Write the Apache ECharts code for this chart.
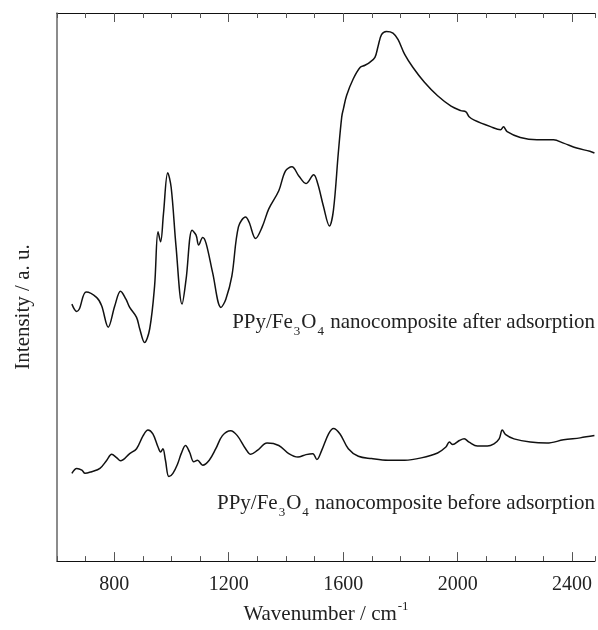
<!DOCTYPE html>
<html>
<head>
<meta charset="utf-8">
<script src="https://cdn.jsdelivr.net/npm/echarts@6/dist/echarts.min.js"></script>
<style>
html,body{margin:0;padding:0;background:#fff;}
#chart{width:598px;height:630px;}
</style>
</head>
<body>
<div id="chart"></div>
<script>
// Wavenumber (cm-1) and intensity (a.u.)
const afterWavenumber = [652,669,678,702,739,756,779,802,822,841,854,878,889,906,924,941,953,962,972,987,999,1016,1037,1051,1072,1086,1095,1109,1121,1144,1173,1190,1211,1234,1259,1271,1294,1317,1340,1375,1398,1421,1445,1470,1497,1511,1531,1552,1566,1583,1595,1601,1612,1635,1659,1676,1693,1711,1722,1734,1751,1774,1792,1815,1844,1884,1930,1977,2011,2029,2040,2058,2115,2150,2160,2173,2219,2277,2335,2370,2416,2462,2478];
const afterIntensity = [251.7,244.3,246.7,264,258.3,250,228.3,250,264.7,256.7,248.3,238.3,226.7,212.7,226.7,270,325,315,343.3,385,370,310,251.7,276.7,326.7,321.7,311.7,319.3,313.3,283.3,248.3,256.7,280,330,340,335,318.3,330,348.3,366.7,386.7,391,381.7,374,383,374,351,331,347,405,441.7,450,463.3,480,491.7,494,497,502,513.3,525,528.3,526.7,520,505,491.7,476.7,463,452.5,448,446.7,441.7,438.3,431.7,428.5,431.5,426.7,420.7,418.3,418.3,415,410,406.7,405];

const beforeWavenumber = [652,669,687,698,721,750,774,791,808,822,854,878,901,918,935,953,962,970,979,991,1005,1022,1034,1049,1063,1078,1091,1109,1132,1155,1178,1207,1230,1259,1277,1300,1334,1375,1410,1442,1470,1494,1508,1525,1549,1566,1589,1618,1653,1699,1757,1815,1873,1930,1959,1971,1983,2006,2023,2040,2069,2104,2127,2145,2156,2168,2197,2254,2312,2370,2428,2478];
const beforeIntensity = [80,85,83.3,80,81.7,85,93.3,99.3,96,92.7,100,105,118.3,124,120,106.7,101.7,105,93.3,76.7,80,90,100,108.3,101.7,91.7,93.3,88.3,93.3,105,118.3,123.3,118.3,105,99.3,103.3,110.7,108.3,100,96.5,99,100,94,103.3,120,125.5,120,105,97.3,95,93.3,93.3,95.7,100.7,106.7,111.7,109.3,113.3,115,111.7,107.7,107.7,110,115,124,119.3,115,111.7,110.7,114,116,118.3];

const majorTicks = [800,1200,1600,2000,2400];
const xMin = 600, xMax = 2480;
const yMin = -9, yMax = 547;

function pairs(xs, ys){ return xs.map((x,i)=>[x, ys[i]]); }

const serif = '"Liberation Serif","Times New Roman",serif';
const chart = echarts.init(document.getElementById('chart'), null, {renderer:'canvas'});

const baseX = {
  type:'value', min:xMin, max:xMax, interval:100,
  splitLine:{show:false}
};

chart.setOption({
  animation:false,
  backgroundColor:'#fff',
  grid:{left:57, right:0, top:13, bottom:61, containLabel:false},
  xAxis:[
    Object.assign({}, baseX, {
      position:'bottom',
      axisLine:{show:true, onZero:false, lineStyle:{color:'#111', width:1}},
      axisTick:{show:true, inside:true, length:5, lineStyle:{color:'#555'}},
      axisLabel:{show:true, margin:14, fontFamily:serif, fontSize:20, color:'#222',
        formatter: v => (majorTicks.indexOf(v) >= 0 ? String(v) : '')},
      name:'{t|Wavenumber / cm}{s|-1}',
      nameLocation:'middle', nameGap:36,
      nameTextStyle:{rich:{
        t:{fontFamily:serif, fontSize:21, color:'#222'},
        s:{fontFamily:serif, fontSize:13, color:'#222', padding:[0,0,16,1]}
      }}
    }),
    Object.assign({}, baseX, {
      position:'bottom',
      axisLine:{show:false, onZero:false},
      axisLabel:{show:false},
      axisTick:{show:true, inside:true, length:9, customValues:majorTicks, lineStyle:{color:'#555'}}
    }),
    Object.assign({}, baseX, {
      position:'top',
      axisLine:{show:true, onZero:false, lineStyle:{color:'#111', width:1}},
      axisLabel:{show:false},
      axisTick:{show:true, inside:true, length:5, lineStyle:{color:'#555'}}
    }),
    Object.assign({}, baseX, {
      position:'top',
      axisLine:{show:false, onZero:false},
      axisLabel:{show:false},
      axisTick:{show:true, inside:true, length:9, customValues:majorTicks, lineStyle:{color:'#555'}}
    })
  ],
  yAxis:{
    type:'value', min:yMin, max:yMax,
    axisLine:{show:true, onZero:false, lineStyle:{color:'#666', width:1.5}},
    axisTick:{show:false}, axisLabel:{show:false}, splitLine:{show:false}
  },
  series:[
    {type:'line', xAxisIndex:0, data:pairs(afterWavenumber, afterIntensity), showSymbol:false, smooth:0.35,
     lineStyle:{color:'#111', width:1.5}},
    {type:'line', xAxisIndex:0, data:pairs(beforeWavenumber, beforeIntensity), showSymbol:false, smooth:0.35,
     lineStyle:{color:'#111', width:1.5}}
  ],
  graphic:[
    {type:'text', x:23, y:307, rotation:Math.PI/2,
     style:{text:'Intensity / a. u.', font:'21px '+serif, fill:'#222', align:'center', verticalAlign:'middle'}},
    {type:'text', x:595, y:322,
     style:{text:'{t|PPy/Fe}{s|3}{t|O}{s|4}{t| nanocomposite after adsorption}', align:'right', verticalAlign:'middle',
       rich:{t:{fontFamily:serif, fontSize:21, fill:'#222'}, s:{fontFamily:serif, fontSize:13, fill:'#222', padding:[20,1,0,1]}}}},
    {type:'text', x:595, y:503,
     style:{text:'{t|PPy/Fe}{s|3}{t|O}{s|4}{t| nanocomposite before adsorption}', align:'right', verticalAlign:'middle',
       rich:{t:{fontFamily:serif, fontSize:21, fill:'#222'}, s:{fontFamily:serif, fontSize:13, fill:'#222', padding:[20,1,0,1]}}}}
  ]
});
</script>
</body>
</html>
